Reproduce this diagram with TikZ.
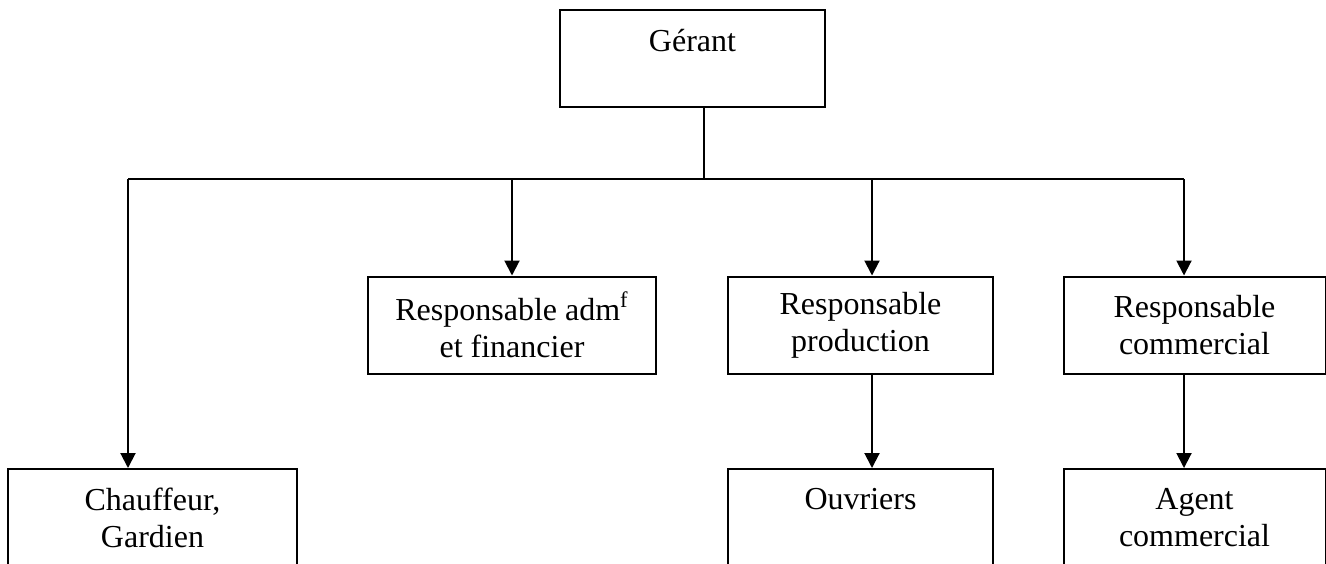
\documentclass[tikz,border=0pt]{standalone}
\usepackage{fontspec}
\setmainfont{Liberation Serif}
\usetikzlibrary{arrows.meta,positioning}
\tikzset{
  post/.style={rectangle,draw,line width=1pt,minimum height=48.5pt,align=center,inner sep=0pt,font=\fontsize{16}{18.5}\selectfont},
  link/.style={line width=1pt},
  arr/.style={line width=1pt,-{Triangle[length=7.5pt,width=7.5pt]}},
}
\begin{document}
\begin{tikzpicture}[x=0.5pt,y=-0.5pt]
  \clip (0,0) rectangle (1326,563);
  % boxes
  \node[post,minimum width=132.5pt] (gerant) at (692.5,58.5) {Gérant\\~};
  \node[post,minimum width=144pt] (adm) at (512,325) {Responsable adm\textsuperscript{f}\\et financier};
  \node[post,minimum width=132.5pt] (prod) at (860.5,325) {Responsable\\production};
  \node[post,minimum width=131pt] (comm) at (1194.5,325) {Responsable\\commercial};
  \node[post,minimum width=144.5pt] (chauf) at (152.5,517.5) {Chauffeur,\\Gardien};
  \node[post,minimum width=132.5pt] (ouvr) at (860.5,517.5) {Ouvriers\\~};
  \node[post,minimum width=131pt] (agent) at (1194.5,517.5) {Agent\\commercial};
  % bus
  \coordinate (bus) at (704,179);
  \draw[link] (gerant.south -| bus) -- (bus);
  \foreach \x/\n in {128/chauf,512/adm,872/prod,1184/comm}{
    \coordinate (d\n) at (\x,179);
  }
  \draw[link] (dchauf) -- (dcomm);
  \foreach \n in {chauf,adm,prod,comm}{
    \draw[arr] (d\n) -- (d\n |- \n.north);
  }
  \draw[arr] (prod.south -| dprod) -- (dprod |- ouvr.north);
  \draw[arr] (comm.south -| dcomm) -- (dcomm |- agent.north);
\end{tikzpicture}
\end{document}
